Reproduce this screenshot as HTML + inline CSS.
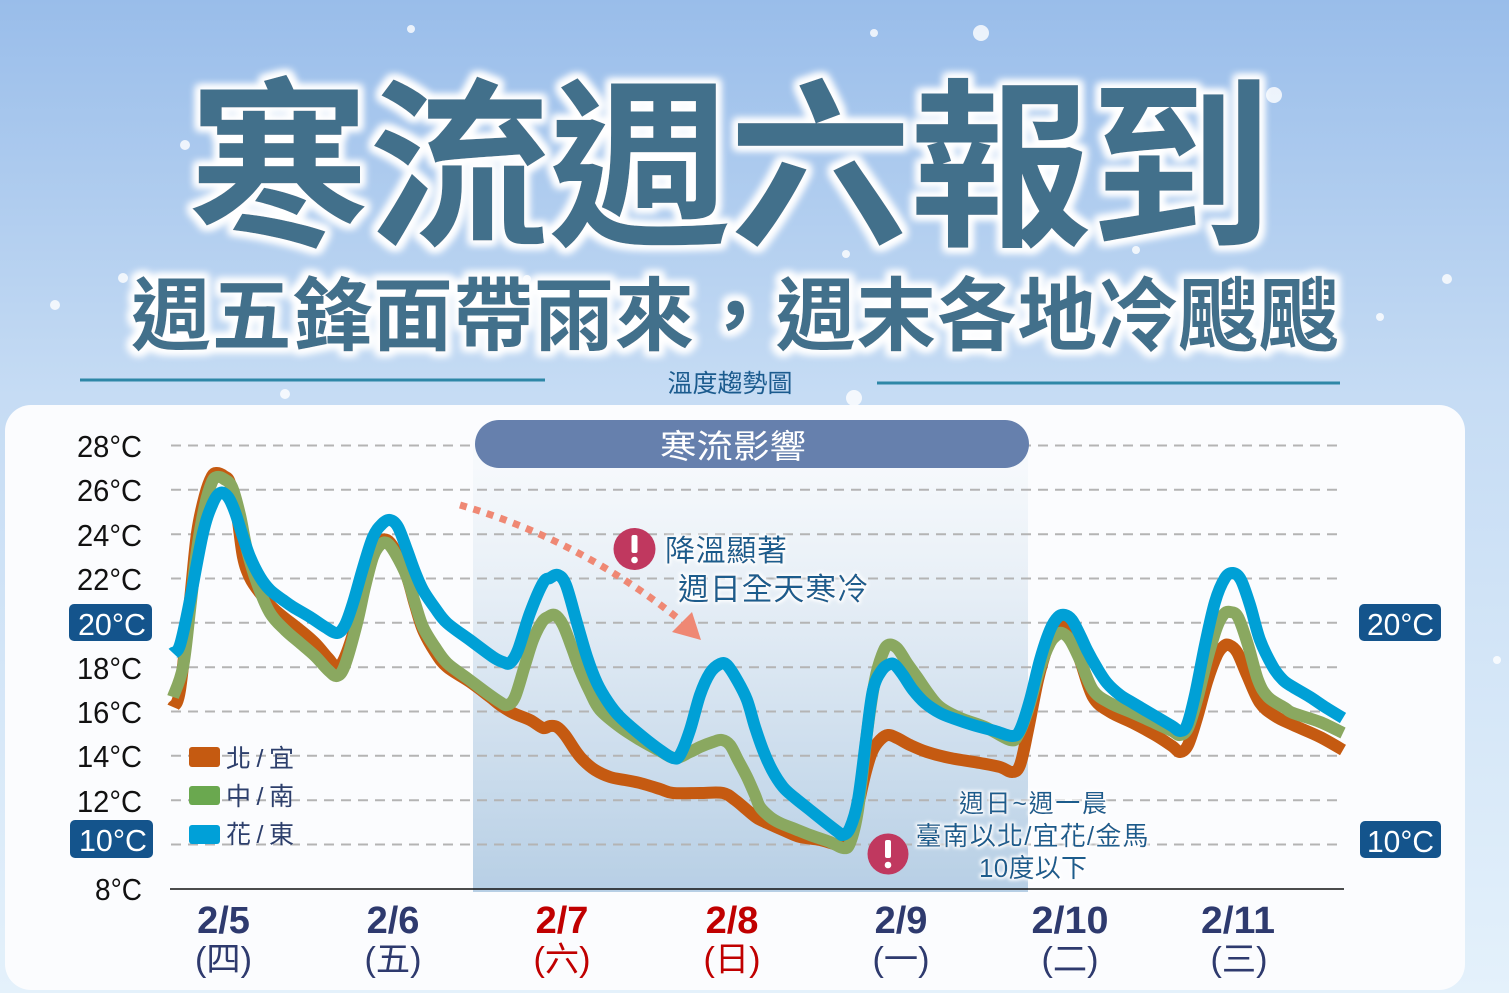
<!DOCTYPE html>
<html><head><meta charset="utf-8"><style>
html,body{margin:0;padding:0;background:#cfe3f6;}
svg{display:block;}
text{font-family:"Liberation Sans","Noto Sans CJK TC",sans-serif;}
.cjk{font-family:"Liberation Sans","Noto Sans CJK TC",sans-serif;}
</style></head><body>
<svg id="chart" width="1509" height="993" viewBox="0 0 1509 993" xmlns="http://www.w3.org/2000/svg">
<defs>
<linearGradient id="bg" x1="0" y1="0" x2="0" y2="1">
<stop offset="0" stop-color="#99bdea"/>
<stop offset="0.4" stop-color="#c6dcf4"/>
<stop offset="1" stop-color="#e4f1fb"/>
</linearGradient>
<linearGradient id="shade" x1="0" y1="0" x2="0" y2="1">
<stop offset="0" stop-color="#f9fbfd"/>
<stop offset="0.3" stop-color="#e9f0f7"/>
<stop offset="1" stop-color="#b7cfe5"/>
</linearGradient>
<filter id="glow" x="-10%" y="-30%" width="120%" height="160%">
<feMorphology in="SourceAlpha" operator="dilate" radius="4" result="d"/>
<feGaussianBlur in="d" stdDeviation="4" result="b"/>
<feFlood flood-color="#ffffff" flood-opacity="1"/>
<feComposite in2="b" operator="in" result="g"/>
<feMerge><feMergeNode in="g"/><feMergeNode in="g"/><feMergeNode in="SourceGraphic"/></feMerge>
</filter>
<filter id="glow2" x="-10%" y="-30%" width="120%" height="160%">
<feMorphology in="SourceAlpha" operator="dilate" radius="1.5" result="d"/>
<feGaussianBlur in="d" stdDeviation="1.5" result="b"/>
<feFlood flood-color="#ffffff" flood-opacity="1"/>
<feComposite in2="b" operator="in" result="g"/>
<feMerge><feMergeNode in="g"/><feMergeNode in="SourceGraphic"/></feMerge>
</filter>
</defs>

<rect x="0" y="0" width="1509" height="993" fill="url(#bg)"/>

<!-- snow dots -->
<g fill="#ffffff" opacity="0.8">
<circle cx="411" cy="29" r="4"/>
<circle cx="874" cy="33" r="4"/>
<circle cx="981" cy="33" r="8"/>
<circle cx="1274" cy="95" r="8"/>
<circle cx="185" cy="145" r="5"/>
<circle cx="846" cy="254" r="4"/>
<circle cx="1136" cy="250" r="4"/>
<circle cx="1447" cy="279" r="5"/>
<circle cx="1380" cy="317" r="4"/>
<circle cx="123" cy="278" r="5"/>
<circle cx="55" cy="305" r="5"/>
<circle cx="285" cy="394" r="5"/>
<circle cx="527" cy="279" r="4"/>
<circle cx="854" cy="398" r="8"/>
<circle cx="1497" cy="660" r="4"/>
</g>

<!-- Title -->
<text x="188" y="232" font-size="182" font-weight="700" fill="#436f8b" textLength="1084" lengthAdjust="spacing" filter="url(#glow)" class="cjk">寒流週六報到</text>
<text x="131" y="344" font-size="80" font-weight="700" fill="#436f8b" textLength="1208" lengthAdjust="spacing" filter="url(#glow)" class="cjk">週五鋒面帶雨來，週末各地冷颼颼</text>

<!-- decorative lines -->
<line x1="80" y1="380" x2="545" y2="380" stroke="#2e87a7" stroke-width="3"/>
<line x1="877" y1="383" x2="1340" y2="383" stroke="#2e87a7" stroke-width="3"/>
<text x="730" y="392" font-size="25" fill="#1b5b8e" text-anchor="middle" class="cjk">溫度趨勢圖</text>

<!-- Panel -->
<rect x="5" y="405" width="1460" height="585" rx="26" ry="26" fill="#fbfcfe"/>

<!-- shaded cold-wave region -->
<rect x="473" y="440" width="555" height="452" fill="url(#shade)"/>

<!-- gridlines -->
<g stroke="#b4b4b4" stroke-width="2" stroke-dasharray="10 7">
<line x1="171" y1="445.5" x2="1343" y2="445.5"/>
<line x1="171" y1="489.8" x2="1343" y2="489.8"/>
<line x1="171" y1="534.2" x2="1343" y2="534.2"/>
<line x1="171" y1="578.5" x2="1343" y2="578.5"/>
<line x1="171" y1="622.8" x2="1343" y2="622.8"/>
<line x1="171" y1="667.2" x2="1343" y2="667.2"/>
<line x1="171" y1="711.5" x2="1343" y2="711.5"/>
<line x1="171" y1="755.8" x2="1343" y2="755.8"/>
<line x1="171" y1="800.2" x2="1343" y2="800.2"/>
<line x1="171" y1="844.5" x2="1343" y2="844.5"/>
</g>
<line x1="170" y1="889" x2="1344" y2="889" stroke="#111" stroke-width="1.6"/>

<!-- pill -->
<rect x="475" y="420" width="554" height="48" rx="24" ry="24" fill="#6680ad"/>
<text x="733" y="458" font-size="33" fill="#ffffff" text-anchor="middle" textLength="146" lengthAdjust="spacingAndGlyphs" class="cjk">寒流影響</text>

<!-- Y labels -->
<g font-size="31" fill="#111" text-anchor="end">
<text x="142" y="457" textLength="65" lengthAdjust="spacingAndGlyphs">28°C</text>
<text x="142" y="501" textLength="65" lengthAdjust="spacingAndGlyphs">26°C</text>
<text x="142" y="546" textLength="65" lengthAdjust="spacingAndGlyphs">24°C</text>
<text x="142" y="590" textLength="65" lengthAdjust="spacingAndGlyphs">22°C</text>
<text x="142" y="679" textLength="65" lengthAdjust="spacingAndGlyphs">18°C</text>
<text x="142" y="723" textLength="65" lengthAdjust="spacingAndGlyphs">16°C</text>
<text x="142" y="767" textLength="65" lengthAdjust="spacingAndGlyphs">14°C</text>
<text x="142" y="812" textLength="65" lengthAdjust="spacingAndGlyphs">12°C</text>
<text x="142" y="900" textLength="47" lengthAdjust="spacingAndGlyphs">8°C</text>
</g>
<!-- badges -->
<rect x="69" y="604" width="83" height="37" rx="5" fill="#14548c"/>
<text x="146" y="635" font-size="31" fill="#fff" text-anchor="end" textLength="68" lengthAdjust="spacingAndGlyphs">20°C</text>
<rect x="70" y="820" width="83" height="38" rx="5" fill="#14548c"/>
<text x="147" y="851" font-size="31" fill="#fff" text-anchor="end" textLength="68" lengthAdjust="spacingAndGlyphs">10°C</text>
<rect x="1359" y="604" width="82" height="37" rx="5" fill="#14548c"/>
<text x="1434" y="635" font-size="31" fill="#fff" text-anchor="end" textLength="67" lengthAdjust="spacingAndGlyphs">20°C</text>
<rect x="1360" y="821" width="81" height="37" rx="5" fill="#14548c"/>
<text x="1434" y="852" font-size="31" fill="#fff" text-anchor="end" textLength="67" lengthAdjust="spacingAndGlyphs">10°C</text>

<!-- legend -->
<rect x="189" y="747" width="31" height="20" rx="3" fill="#c55a11"/>
<rect x="189" y="786" width="31" height="19" rx="3" fill="#6aa84f"/>
<rect x="189" y="825" width="31" height="19" rx="3" fill="#00a0d8"/>
<g font-size="25" fill="#2d3f6c" class="cjk">
<text x="226" y="767" textLength="68" lengthAdjust="spacing">北 / 宜</text>
<text x="226" y="805" textLength="68" lengthAdjust="spacing">中 / 南</text>
<text x="226" y="843" textLength="68" lengthAdjust="spacing">花 / 東</text>
</g>

<!-- dotted arrow -->
<path d="M460,505 Q580,540 680,620" fill="none" stroke="#ef8874" stroke-width="7" stroke-dasharray="7 7"/>
<polygon points="672,632 692,612 701,640" fill="#ef8874"/>

<!-- annotations -->
<circle cx="634.5" cy="549" r="21" fill="#c0385f"/>
<rect x="631.5" y="535" width="6" height="18" rx="2" fill="#fff"/>
<circle cx="634.5" cy="560" r="3.3" fill="#fff"/>
<g fill="#1f5b8c" filter="url(#glow2)" class="cjk">
<text x="665" y="561" font-size="30" textLength="122" lengthAdjust="spacing">降溫顯著</text>
<text x="678" y="600" font-size="31" textLength="190" lengthAdjust="spacing">週日全天寒冷</text>
<text x="1033" y="812" font-size="25" text-anchor="middle" textLength="148" lengthAdjust="spacing">週日~週一晨</text>
<text x="1032" y="845" font-size="26" text-anchor="middle" textLength="233" lengthAdjust="spacing">臺南以北/宜花/金馬</text>
<text x="1033" y="877" font-size="26" text-anchor="middle" textLength="108" lengthAdjust="spacing">10度以下</text>
</g>
<circle cx="888" cy="854" r="20.5" fill="#c0385f"/>
<rect x="885" y="840" width="6" height="18" rx="2" fill="#fff"/>
<circle cx="888" cy="865" r="3.3" fill="#fff"/>

<!-- series -->
<g id="series" fill="none" stroke-width="12" stroke-linejoin="round" stroke-linecap="butt">
<polyline class="sm" stroke="#c55a11" points="173,707 180,690 190,600 197,533 205,495 212,476 217,473 224,476 230,483 237,515 243,557 250,578 260,593 275,610 300,630 315,643 328,658 337,667 345,657 357,620 365,585 373,556 380,542 387,540 395,550 407,577 415,605 423,630 435,652 447,667 470,682 490,697 500,705 513,713 530,720 543,728 550,726 557,727 565,735 575,750 583,760 595,770 610,777 625,780 640,783 660,789 673,793 700,793 723,793 735,800 747,810 757,818 767,823 785,831 800,837 820,840 840,845 848,840 857,810 865,775 872,752 880,740 888,735 897,738 910,745 927,752 950,758 980,763 1000,767 1012,772 1020,765 1028,730 1038,680 1048,645 1055,630 1062,625 1070,635 1080,660 1093,697 1110,712 1133,723 1155,735 1172,746 1180,752 1188,745 1197,718 1207,682 1217,655 1224,646 1229,645 1237,652 1247,675 1260,703 1275,716 1293,725 1320,737 1343,750"/>
<polyline class="sm" stroke="#8aa860" points="173,697 183,667 190,610 197,550 205,505 212,482 217,477 224,479 232,487 240,515 247,550 257,583 270,613 285,630 300,643 315,656 328,670 337,676 345,665 357,623 365,587 373,557 380,545 387,543 395,553 407,577 415,603 423,627 435,647 447,663 467,678 487,693 500,702 507,705 515,697 525,665 533,640 542,622 548,617 555,615 563,625 572,648 580,670 590,692 600,710 620,727 640,740 660,751 675,758 690,752 700,747 713,742 722,740 730,745 738,760 747,777 755,795 760,807 770,817 780,823 795,829 810,835 830,842 843,848 850,843 858,810 867,733 875,680 882,655 888,645 897,648 907,663 917,677 928,693 940,707 960,718 985,727 1010,740 1018,735 1028,710 1040,668 1050,643 1057,635 1062,633 1070,640 1080,660 1093,690 1110,703 1133,713 1155,723 1172,731 1180,735 1188,728 1197,700 1207,660 1217,627 1224,614 1230,612 1238,617 1248,645 1258,680 1268,697 1285,708 1293,713 1320,722 1343,733"/>
<polyline class="sm" stroke="#00a0d6" points="173,653 180,645 190,600 203,533 212,505 220,493 228,497 235,512 243,537 250,557 260,577 270,590 283,600 293,607 310,617 325,627 337,633 345,625 353,603 363,568 373,537 382,524 390,520 398,527 407,550 415,572 423,590 435,608 447,623 470,640 493,657 503,662 510,663 518,650 530,613 543,583 550,578 558,575 566,585 577,623 587,657 597,683 608,702 620,717 643,737 660,750 673,758 680,755 690,730 700,695 710,673 720,664 727,665 737,680 747,700 755,727 763,750 772,770 783,787 795,798 810,810 825,822 838,832 843,835 850,828 858,800 866,740 873,690 882,670 890,664 895,665 903,675 913,690 925,703 940,713 955,719 973,725 995,731 1012,736 1020,730 1030,700 1040,660 1050,630 1058,617 1065,615 1072,620 1080,635 1087,650 1097,668 1107,683 1120,695 1133,703 1155,716 1172,726 1180,731 1187,725 1195,695 1205,645 1215,602 1225,578 1233,573 1241,580 1250,605 1260,640 1273,667 1283,680 1293,687 1310,697 1325,707 1343,718"/>
</g>

<!-- X labels -->
<g font-weight="bold" font-size="38" text-anchor="middle">
<text x="223.5" y="933" fill="#2e3a6e">2/5</text>
<text x="393" y="933" fill="#2e3a6e">2/6</text>
<text x="562" y="933" fill="#c00000">2/7</text>
<text x="732" y="933" fill="#c00000">2/8</text>
<text x="901" y="933" fill="#2e3a6e">2/9</text>
<text x="1070" y="933" fill="#2e3a6e" textLength="77" lengthAdjust="spacingAndGlyphs">2/10</text>
<text x="1238" y="933" fill="#2e3a6e" textLength="74" lengthAdjust="spacingAndGlyphs">2/11</text>
</g>
<g font-size="34" text-anchor="middle" class="cjk">
<text x="223.5" y="971" fill="#2e3a6e" textLength="57" lengthAdjust="spacingAndGlyphs">(四)</text>
<text x="393" y="971" fill="#2e3a6e" textLength="57" lengthAdjust="spacingAndGlyphs">(五)</text>
<text x="562" y="971" fill="#c00000" textLength="57" lengthAdjust="spacingAndGlyphs">(六)</text>
<text x="732" y="971" fill="#c00000" textLength="57" lengthAdjust="spacingAndGlyphs">(日)</text>
<text x="901" y="971" fill="#2e3a6e" textLength="57" lengthAdjust="spacingAndGlyphs">(一)</text>
<text x="1070" y="971" fill="#2e3a6e" textLength="57" lengthAdjust="spacingAndGlyphs">(二)</text>
<text x="1239" y="971" fill="#2e3a6e" textLength="57" lengthAdjust="spacingAndGlyphs">(三)</text>
</g>
</svg>
<script>
(function(){
  try{
    var NS="http://www.w3.org/2000/svg";
    var pls=document.querySelectorAll("polyline.sm");
    for(var k=0;k<pls.length;k++){
      var pl=pls[k];
      var raw=pl.getAttribute("points").trim().split(/\s+/);
      var p=[];
      for(var i=0;i<raw.length;i++){var c=raw[i].split(",");p.push([+c[0],+c[1]]);}
      var d="M"+p[0][0]+","+p[0][1];
      var t=0.5;
      for(var i=0;i<p.length-1;i++){
        var p0=p[i-1]||p[i],p1=p[i],p2=p[i+1],p3=p[i+2]||p[i+1];
        var c1x=p1[0]+(p2[0]-p0[0])*t/3,c1y=p1[1]+(p2[1]-p0[1])*t/3;
        var c2x=p2[0]-(p3[0]-p1[0])*t/3,c2y=p2[1]-(p3[1]-p1[1])*t/3;
        d+=" C"+c1x.toFixed(1)+","+c1y.toFixed(1)+" "+c2x.toFixed(1)+","+c2y.toFixed(1)+" "+p2[0]+","+p2[1];
      }
      var path=document.createElementNS(NS,"path");
      path.setAttribute("d",d);
      path.setAttribute("stroke",pl.getAttribute("stroke"));
      pl.parentNode.replaceChild(path,pl);
    }
  }catch(e){}
})();
</script>
</body></html>
